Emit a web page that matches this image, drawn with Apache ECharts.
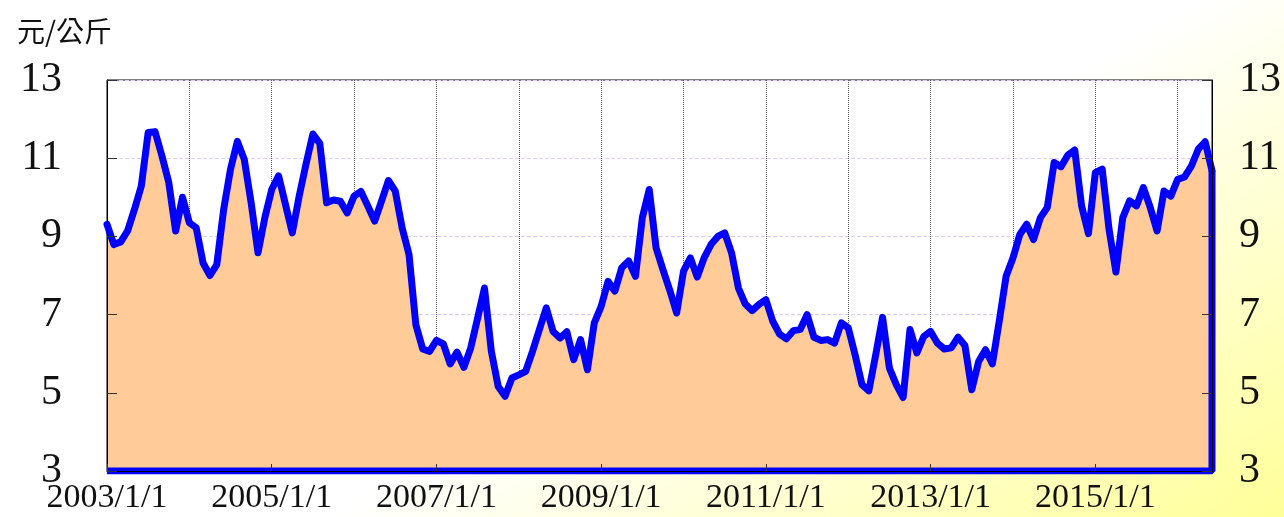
<!DOCTYPE html>
<html>
<head>
<meta charset="utf-8">
<title>元/公斤</title>
<script src="https://cdn.jsdelivr.net/npm/echarts@6/dist/echarts.min.js"></script>
<style>
html, body { margin: 0; padding: 0; }
#main { width: 1284px; height: 517px; }
</style>
</head>
<body>
<div id="main"></div>
<script>
// 月資料 (每年一列)
var years = [2003, 2004, 2005, 2006, 2007, 2008, 2009, 2010, 2011, 2012, 2013, 2014, 2015, 2016];
var p2003 = [9.31, 8.79, 8.86, 9.14, 9.69, 10.29, 11.66, 11.68, 11.06, 10.38, 9.14, 10.0];
var p2004 = [9.35, 9.22, 8.32, 8.0, 8.28, 9.69, 10.72, 11.43, 10.97, 9.86, 8.58, 9.48];
var p2005 = [10.2, 10.55, 9.82, 9.09, 10.03, 10.85, 11.62, 11.38, 9.86, 9.93, 9.9, 9.6];
var p2006 = [10.03, 10.15, 9.78, 9.39, 9.9, 10.43, 10.16, 9.22, 8.54, 6.74, 6.12, 6.06];
var p2007 = [6.34, 6.25, 5.74, 6.04, 5.65, 6.15, 6.91, 7.68, 6.06, 5.16, 4.91, 5.38];
var p2008 = [5.46, 5.55, 6.06, 6.62, 7.17, 6.57, 6.4, 6.56, 5.85, 6.36, 5.59, 6.79];
var p2009 = [7.21, 7.85, 7.6, 8.2, 8.37, 7.98, 9.48, 10.2, 8.71, 8.15, 7.62, 7.04];
var p2010 = [8.11, 8.45, 7.96, 8.45, 8.79, 9.0, 9.09, 8.58, 7.68, 7.27, 7.1, 7.26];
var p2011 = [7.38, 6.83, 6.5, 6.38, 6.59, 6.62, 7.0, 6.42, 6.34, 6.36, 6.27, 6.79];
var p2012 = [6.66, 5.97, 5.21, 5.05, 5.97, 6.93, 5.63, 5.21, 4.88, 6.62, 6.02, 6.44];
var p2013 = [6.57, 6.27, 6.12, 6.15, 6.42, 6.21, 5.08, 5.8, 6.1, 5.74, 6.83, 7.98];
var p2014 = [8.45, 9.05, 9.31, 8.92, 9.48, 9.74, 10.89, 10.78, 11.08, 11.21, 9.78, 9.07];
var p2015 = [10.63, 10.72, 9.18, 8.09, 9.48, 9.91, 9.78, 10.25, 9.74, 9.14, 10.16, 10.03];
var p2016 = [10.46, 10.52, 10.8, 11.23, 11.42, 10.68];

var prices = [].concat(p2003, p2004, p2005, p2006, p2007, p2008, p2009,
                       p2010, p2011, p2012, p2013, p2014, p2015, p2016);

// 類別: 2003/1/1 ... 2016/6/1
var categories = [];
for (var i = 0; i < prices.length; i++) {
    categories.push(years[Math.floor(i / 12)] + '/' + (i % 12 + 1) + '/1');
}

var yMin = 3, yMax = 13, yStep = 2;
var lastIndex = prices.length - 1;
// 面積外框 (右側與底部)
var outline = [[lastIndex, prices[lastIndex]], [lastIndex, yMin], [0, yMin]];

var serifFont = "'Liberation Serif', 'Times New Roman', serif";
var everyTwoYears = function (idx) { return idx % 24 === 0; };

var myChart = echarts.init(document.getElementById('main'));
myChart.setOption({
    animation: false,
    backgroundColor: {
        type: 'linear', x: 1035, y: 98, x2: 1284, y2: 517, global: true,
        colorStops: [{offset: 0, color: '#ffffff'}, {offset: 1, color: '#ffff99'}]
    },
    title: {
        text: '元/公斤',
        left: 12, top: 12,
        textStyle: {
            fontFamily: "'Noto Sans CJK TC', sans-serif",
            fontSize: 28, fontWeight: 'normal', color: '#111'
        }
    },
    grid: {
        left: 107, right: 72, top: 80, bottom: 46,
        show: true, backgroundColor: '#ffffff',
        borderColor: '#000', borderWidth: 1,
        outerBoundsMode: 'none'
    },
    xAxis: [{
        // 格線 (在面積下面)
        type: 'category',
        data: categories,
        boundaryGap: false,
        axisLine: {show: false},
        axisTick: {show: false},
        axisLabel: {show: false},
        splitLine: {
            show: true,
            interval: function (idx) { return idx % 12 === 0; },
            lineStyle: {type: 'dotted', color: '#555', width: 1}
        },
        z: 0
    }, {
        type: 'value', min: 0, max: lastIndex, show: false
    }, {
        // 軸線、刻度、標籤 (在面積上面)
        type: 'category',
        data: categories,
        position: 'bottom',
        boundaryGap: false,
        axisLine: {lineStyle: {color: '#000', width: 1}},
        axisTick: {inside: true, length: 7, interval: everyTwoYears, lineStyle: {color: '#333'}},
        axisLabel: {
            interval: everyTwoYears,
            fontFamily: serifFont, fontSize: 34, color: '#111', margin: 10
        },
        splitLine: {show: false},
        z: 5
    }],
    yAxis: [{
        type: 'value', position: 'left',
        min: yMin, max: yMax, interval: yStep,
        axisLine: {show: true, lineStyle: {color: '#000'}},
        axisTick: {show: true, inside: true, length: 10, lineStyle: {color: '#333'}},
        axisLabel: {fontFamily: serifFont, fontSize: 42, color: '#111', margin: 45},
        splitLine: {show: false},
        z: 5
    }, {
        type: 'value', position: 'right',
        min: yMin, max: yMax, interval: yStep,
        axisLine: {show: true, lineStyle: {color: '#000'}},
        axisTick: {show: true, inside: true, length: 10, lineStyle: {color: '#333'}},
        axisLabel: {fontFamily: serifFont, fontSize: 42, color: '#111', margin: 27},
        splitLine: {show: false},
        z: 5
    }, {
        type: 'value', position: 'left',
        min: yMin, max: yMax, interval: yStep,
        axisLine: {show: false},
        axisTick: {show: false},
        axisLabel: {show: false},
        splitLine: {lineStyle: {type: 'dashed', color: '#dccdf2', width: 1}},
        z: 0
    }],
    series: [{
        type: 'line',
        xAxisIndex: 1,
        yAxisIndex: 0,
        data: outline,
        symbol: 'none',
        silent: true,
        lineStyle: {color: '#0000ff', width: 7},
        z: 3
    }, {
        type: 'line',
        xAxisIndex: 0,
        yAxisIndex: 0,
        data: prices,
        symbol: 'none',
        silent: true,
        lineStyle: {color: '#0000ff', width: 7, join: 'round', cap: 'round'},
        areaStyle: {color: '#ffcc99', opacity: 1, origin: 'start'},
        z: 2
    }]
});
</script>
</body>
</html>
